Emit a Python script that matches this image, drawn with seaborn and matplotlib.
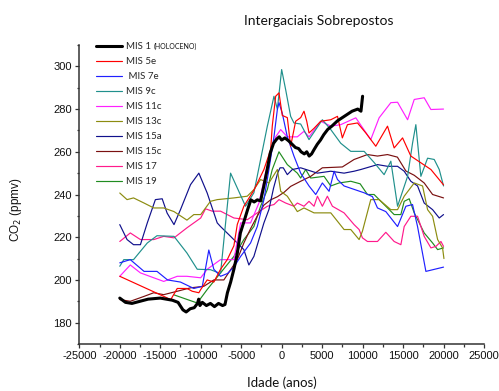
import numpy as np
import pandas as pd
import matplotlib
matplotlib.use("Agg")
import matplotlib.pyplot as plt
from matplotlib.ticker import MultipleLocator
import seaborn as sns

# ---------------- data ----------------
labels = ["MIS 1", "MIS 5e", " MIS 7e", "MIS 9c", "MIS 11c", "MIS 13c",
          "MIS 15a", "MIS 15c", "MIS 17", "MIS 19"]
colors = ["#000000", "#ff0000", "#2020ff", "#20908c", "#ff20ff", "#8c8c10",
          "#10108c", "#7a1010", "#ff1a8c", "#208c20"]

x1 = [-20000,-19300,-18500,-17500,-16500,-15000,-13500,-12800,-12200,-11800,-11300,-10800,-10400,-10250,-10100,-9800,-9300,-8800,-8300,-7800,-7300,-7000,-6700,-6300,-5900,-5500,-5100,-4600,-4200,-3800,-3400,-3000,-2600,-2200,-1800,-1400,-1000,-600,-300,0,400,900,1300,1700,2100,2400,2800,3100,3400,3700,4000,4400,4800,5200,5700,6200,6900,7500,8100,8700,9400,9800,10000]
y1 = [191.5,189.5,189,190,191,191.5,190.5,189.5,186,185,186.5,187,189,191,188,189.5,188,189,187.5,189,188,188.5,194,199,205,212,222,228,233,237.5,236.5,237.5,237,244,251.5,259.5,264,266,267,265.5,266.5,265,263.5,262,261.5,260,259,260,258,259,261,263.5,265.5,268,270.5,272,274.5,276,277.5,279,280,279,286]

x5 = [-20000,-13700,-12900,-11700,-11050,-10230,-10000,-9200,-8380,-7550,-6720,-5900,-5480,-4670,-3430,-2190,-1360,-1160,-740,-330,80,700,1110,1730,2350,2760,3100,3380,4000,4830,6070,6900,7500,8130,9370,10400,11630,12460,13080,13900,14940,15960,18440,20000]
y5 = [201.7,190.8,196,196,194.7,194,195.5,200,199,205,209.5,216,226,234.5,242,251.7,261,272,286,287.6,277,276,262.6,274.3,276,279,274.3,268.8,271,274.3,275,276.6,266.5,272.7,273.5,268.8,262.6,268,272,261.8,266.5,258,251.7,244.5]

x7 = [-20000,-18700,-17000,-15400,-14100,-12500,-10850,-9800,-9000,-8380,-7550,-6700,-5900,-5070,-3840,-3010,-2190,-1570,-950,-530,-330,80,700,1520,2350,3380,4210,5030,5860,6480,6900,7710,10190,11220,11840,12870,14320,15350,16170,16790,17820,20000]
y7 = [208,209.5,204,204,200,199,196,197,214,205,201.7,203,206,211,217.3,225,237.6,251.7,267,279.8,283,278,267,258,250,244,240,245.4,241.5,250.9,247,244,240.8,239,233.7,232,225,234.5,235.3,225,204,206]

x9 = [-20000,-19500,-18300,-16600,-15400,-13300,-11700,-10430,-8800,-7550,-6310,-4460,-3430,-2600,-1770,-950,-530,0,500,1110,1520,2350,3380,5030,6070,7300,8540,10190,11420,12660,13490,14320,15560,16170,16580,17200,18030,18850,19470,20000]
y9 = [206.4,209.5,209.5,217.3,220.7,220.4,212.6,205,204.8,203,250,234.5,240.8,256.4,272,286,280,298.5,289,276.6,273.5,273,265.7,275,270.4,264,260.2,260.2,255,249.3,255.6,234.5,248.5,264,272.7,248.5,257,256.4,251.7,244]

x11 = [-20000,-18700,-17450,-15800,-14570,-12900,-11700,-10000,-9200,-7550,-5900,-5070,-3840,-2810,-1980,-1360,-740,-120,700,1940,2760,3380,4830,6070,7300,9160,11010,12040,13490,14320,15560,16380,17610,18440,20000]
y11 = [201.7,207,203.3,201,199.3,201.7,201.7,201,205,209.5,209.5,226.7,226.7,236,250,259.5,267,270.4,267,267,269.6,267,274.3,272,272.7,275.9,265.7,275.9,283,283.2,275,284.5,285.3,279.8,280]

x13 = [-20000,-19100,-18300,-17000,-15800,-14570,-13300,-11700,-10850,-10000,-8800,-7960,-5900,-4250,-3430,-2600,-1570,-530,-120,700,1940,2760,4000,6070,7710,8540,9570,9980,11010,12040,13490,14320,15140,16380,17410,18030,18650,19270,19880,20050]
y13 = [240.7,237.6,238.4,236,233.7,233.7,232,228,230.6,230.6,236.8,237.6,238.4,239.2,242.3,247,245.4,251.7,241.5,239.2,232,233.7,231.4,231.4,223.6,223.6,218.9,222.8,237.6,237.6,232.9,232.9,239.2,245.4,244,232.9,229.8,218.9,215,210]

x15a = [-20000,-19100,-18300,-17450,-16600,-15600,-14760,-14150,-13300,-12500,-11260,-10230,-9200,-7960,-7550,-6310,-4670,-4050,-3430,-2810,-2190,-1570,-1000,-500,-200,200,700,1320,2350,4420,6070,7710,8950,9780,11840,13080,14320,15140,15960,16790,17610,18650,19470,20000]
y15a = [225.9,218.9,216.5,216.5,226.7,237.6,238,231.3,225.9,232.9,244.6,250,240.7,226.7,225,220.4,214.2,207,211,218.9,226.7,233,243,250,252.5,252.5,249.3,251.7,252.5,250,250.9,250,250.9,251.7,254,253.2,253.2,250.9,246.2,244,236,232.9,229,230.6]

x15c = [-20000,-18700,-17000,-15800,-14570,-12900,-11260,-9620,-8380,-7140,-6300,-5480,-4670,-3840,-3000,-2200,-1360,-500,290,1110,2350,3590,5030,7500,8950,10600,11840,13080,14300,15350,16380,17610,18650,20000]
y15c = [190.8,190,192.3,194,193.1,194.7,196.3,197,200,200,204.8,209.5,217.3,224,230,235,237.5,239,241,243.8,246.2,248.5,252.5,252.9,256.4,258.7,258,258.7,257.5,251,249,245.4,240,238.4]

x17 = [-20000,-18700,-17450,-15800,-14570,-13300,-11700,-10000,-9400,-8580,-7550,-5900,-4240,-3010,-1770,-950,-330,500,1520,1940,2760,3380,4000,4420,5030,5650,6270,7710,8950,9570,9980,10600,11840,12870,13900,14730,15140,15960,16790,17610,18440,19060,19680,20000]
y17 = [218,222,218.9,218.9,220.4,219.7,224.4,229,233.3,232.2,232.2,229,228.2,231.4,234.5,235.3,237.6,236,234.5,236,234.5,236.8,234.5,239.2,234.5,239.2,234.5,231.4,225.9,223.6,219.7,218,218,222.3,218,216.5,225,229.8,229.8,220.4,215,215.7,218,215.7]

x19 = [-13300,-10430,-9200,-7550,-5900,-4670,-3430,-2600,-1770,-1160,-330,700,1940,2350,2970,3590,5240,6070,7090,8540,9700,10600,11420,12660,13900,14730,15140,15760,16380,17000,17610,18650,19270,20000]
y19 = [193,189.2,195.5,203.3,211,218.9,225,234.5,242.3,251.7,260,254,250,247.7,251.7,247.7,248.5,244,245.4,246.2,245,240,240,235.3,230.6,230.6,236.8,238,231.4,226.7,222,217.3,214.2,215]

xs = [x1, x5, x7, x9, x11, x13, x15a, x15c, x17, x19]
ys = [y1, y5, y7, y9, y11, y13, y15a, y15c, y17, y19]

title = "Intergaciais Sobrepostos"
xlabel = "Idade (anos)"
ylabel = "CO$_2$ (ppmv)"

# ---------------- figure ----------------
sns.set_style("ticks")
plt.rcParams["font.family"] = ["Liberation Sans", "DejaVu Sans"]
plt.rcParams["axes.unicode_minus"] = False

W, H = 499, 391
fig = plt.figure(figsize=(W / 100, H / 100), dpi=100)
ax = fig.add_axes([79.3 / W, 1 - 344 / H, (484 - 79.3) / W, (344 - 45) / H])

for i, (lab, col, xx, yy) in enumerate(zip(labels, colors, xs, ys)):
    assert len(xx) == len(yy), lab
    df = pd.DataFrame({"x": xx, "y": yy})
    lw = 2.2 if i == 0 else 0.85
    sns.lineplot(data=df, x="x", y="y", color=col, linewidth=lw, ax=ax,
                 sort=False, estimator=None, label=lab, zorder=11 if i == 0 else 10 - i)

ax.set_xlim(-25000, 25000)
ax.set_ylim(170, 310)
ax.xaxis.set_major_locator(MultipleLocator(5000))
ax.xaxis.set_minor_locator(MultipleLocator(2500))
ax.yaxis.set_major_locator(MultipleLocator(20))
ax.yaxis.set_minor_locator(MultipleLocator(10))
ax.tick_params(which="major", direction="out", length=3.2, width=0.9,
               labelsize=8, color="#333333", labelcolor="#111111", pad=2)
ax.tick_params(which="minor", direction="out", length=1.8, width=0.9, color="#333333")
ax.set_yticks(np.arange(180, 301, 20))
for s in ["top", "right"]:
    ax.spines[s].set_visible(False)
for s in ["left", "bottom"]:
    ax.spines[s].set_linewidth(1.1)
    ax.spines[s].set_color("#333333")

ax.set_xlabel(xlabel, fontsize=9.5, family=["Lato", "DejaVu Sans"], labelpad=11, color="#111111")
ax.set_ylabel(ylabel, fontsize=8.5, color="#111111")
ax.yaxis.set_label_coords(-0.137, 0.45)
fig.text(319 / W, 1 - 21 / H, title, ha="center", va="center",
         fontsize=10, family=["Lato", "DejaVu Sans"], color="#111111")

leg = ax.legend(loc="upper left", bbox_to_anchor=(96 / W, 1 - 42 / H),
                bbox_transform=fig.transFigure, frameon=False, borderaxespad=0,
                borderpad=0, handlelength=2.7, handletextpad=0.35,
                labelspacing=0.62, prop={"family": ["Lato", "DejaVu Sans"], "size": 7})
fig.canvas.draw()
bb = leg.get_texts()[0].get_window_extent()
fig.text((bb.x1 + 3) / W, (bb.y0 + bb.y1) / 2 / H, "(HOLOCENO)", ha="left", va="center",
         fontsize=5, family=["Lato", "DejaVu Sans"], color="#111111")

fig.savefig("out.png", dpi=100)
